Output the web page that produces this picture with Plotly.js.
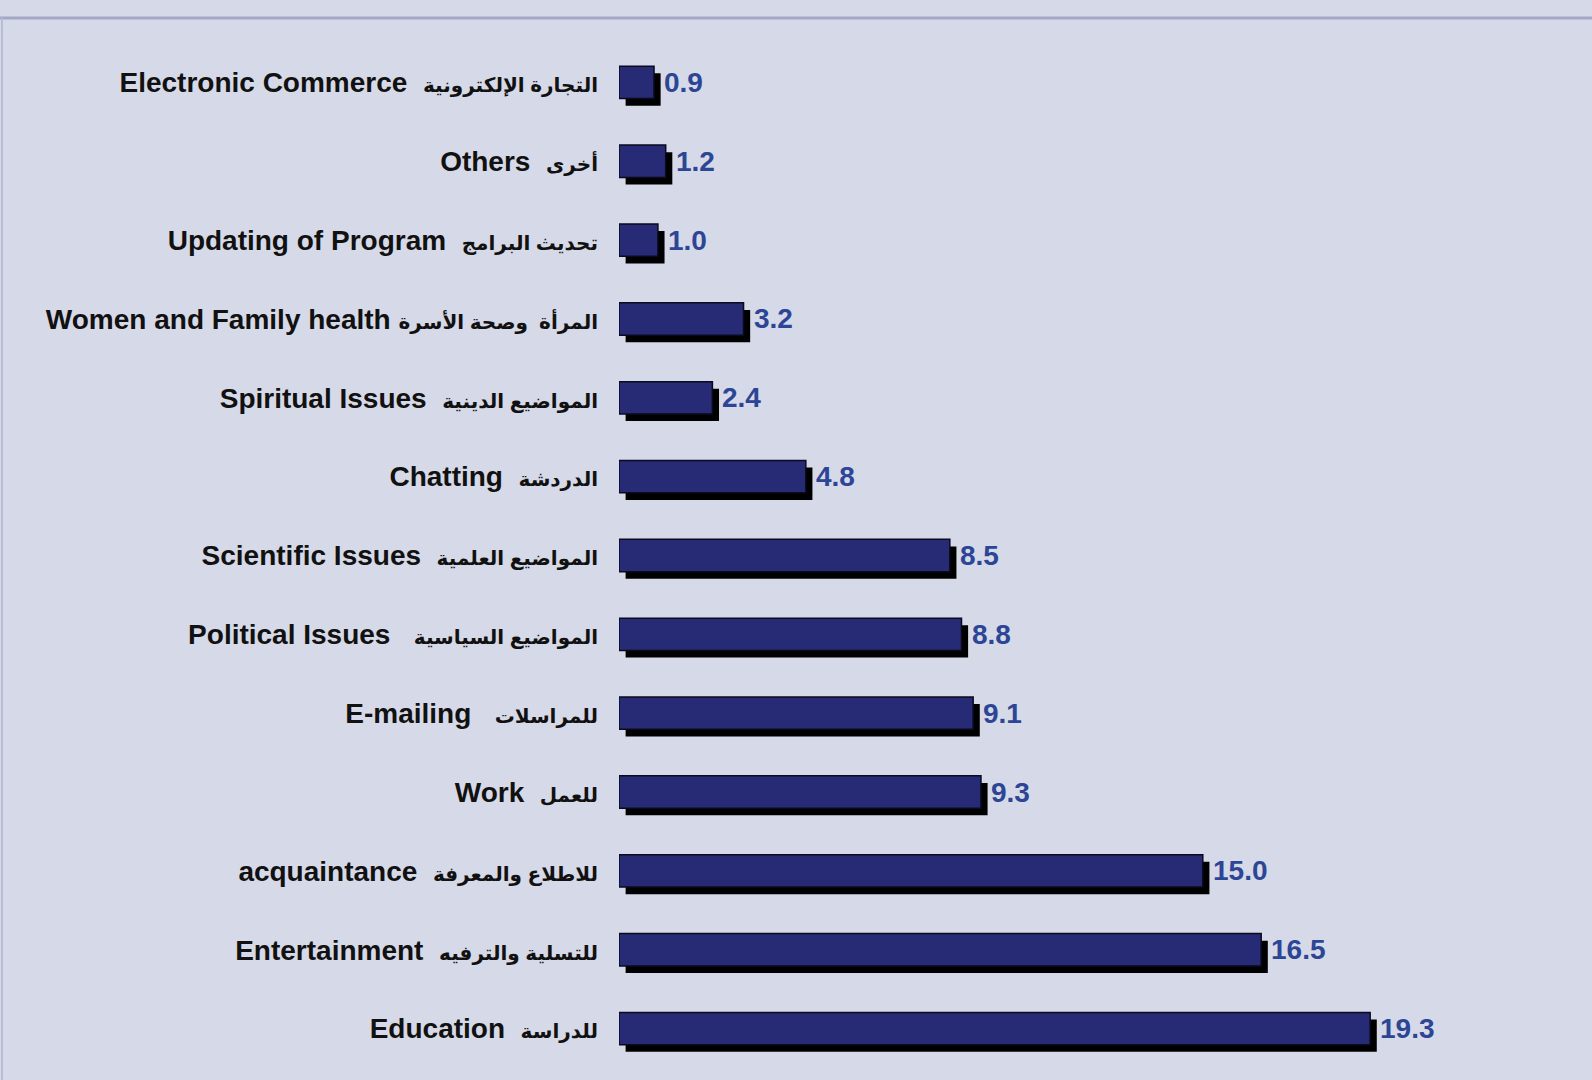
<!DOCTYPE html>
<html>
<head>
<meta charset="utf-8">
<script src="https://cdn.plot.ly/plotly-3.0.1.min.js"></script>
<style>
  html, body { margin: 0; padding: 0; background: #d6d9e8; }
  #chart { width: 1592px; height: 1080px; }
</style>
</head>
<body>
<div id="chart"></div>
<script>
// Categories, top to bottom
const categoriesEn = [
  "Electronic Commerce", "Others", "Updating of Program", "Women and Family health",
  "Spiritual Issues", "Chatting", "Scientific Issues", "Political Issues",
  "E-mailing", "Work", "acquaintance", "Entertainment", "Education"
];
const categoriesAr = [
  "التجارة الإلكترونية", "أخرى", "تحديث البرامج", "المرأة  وصحة الأسرة",
  "المواضيع الدينية", "الدردشة", "المواضيع العلمية", "المواضيع السياسية",
  "للمراسلات", "للعمل", "للاطلاع والمعرفة", "للتسلية والترفيه", "للدراسة"
];
const gaps = [2, 2, 2, 1, 2, 2, 2, 3, 3, 2, 2, 2, 2];
const values = [0.9, 1.2, 1.0, 3.2, 2.4, 4.8, 8.5, 8.8, 9.1, 9.3, 15.0, 16.5, 19.3];
const valueLabels = ["0.9", "1.2", "1.0", "3.2", "2.4", "4.8", "8.5", "8.8", "9.1", "9.3", "15.0", "16.5", "19.3"];

const idx = categoriesEn.map((_, i) => i);
const tickText = categoriesEn.map((en, i) =>
  en + "\u00A0".repeat(gaps[i]) +
  '<span style="font-size:20px">' + categoriesAr[i].replace(/  /g, "\u00A0\u00A0") + '</span>');

const barW = 0.41;
const shadowTrace = {
  type: "bar", orientation: "h",
  x: values, y: idx,
  base: 0.17,
  width: barW, offset: -barW / 2 + 0.09,
  marker: { color: "#000000", line: { width: 0 } },
  hoverinfo: "skip", showlegend: false
};
const mainTrace = {
  type: "bar", orientation: "h",
  x: values, y: idx,
  width: barW, offset: -barW / 2,
  marker: { color: "#272a74", line: { color: "#0a0a1e", width: 1.5 } },
  showlegend: false
};

const annotations = values.map((v, i) => ({
  x: v, y: i, xref: "x", yref: "y",
  text: valueLabels[i], showarrow: false,
  xanchor: "left", yanchor: "middle", xshift: 8, yshift: 0,
  font: { family: "Liberation Sans, Arial, sans-serif", size: 28, color: "#2c4595", weight: "bold" }
}));

const layout = {
  width: 1592, height: 1080,
  paper_bgcolor: "#d6d9e8", plot_bgcolor: "#d6d9e8",
  margin: { l: 619, r: 0, t: 43, b: 12, pad: 0 },
  barmode: "overlay",
  showlegend: false,
  xaxis: { range: [0, 25], visible: false, showgrid: false, zeroline: false, fixedrange: true },
  yaxis: {
    range: [12.5, -0.5], tickmode: "array", tickvals: idx, ticktext: tickText,
    showgrid: false, zeroline: false, showline: false, ticks: "",
    ticklabelstandoff: 20,
    tickfont: { family: "Liberation Sans, Arial, DejaVu Sans, sans-serif", size: 28, color: "#111111", weight: "bold" },
    fixedrange: true
  },
  annotations: annotations,
  shapes: [
    { type: "line", xref: "paper", yref: "paper", x0: -1, x1: 1, y0: 1 + 25/1025, y1: 1 + 25/1025,
      line: { color: "#a3a8c6", width: 3 } },
    { type: "line", xref: "paper", yref: "paper", x0: -617/973, x1: -617/973, y0: -1, y1: 1 + 25/1025,
      line: { color: "#b8bdd6", width: 2 } }
  ]
};

Plotly.newPlot("chart", [shadowTrace, mainTrace], layout, { displayModeBar: false, staticPlot: true });
</script>
</body>
</html>
